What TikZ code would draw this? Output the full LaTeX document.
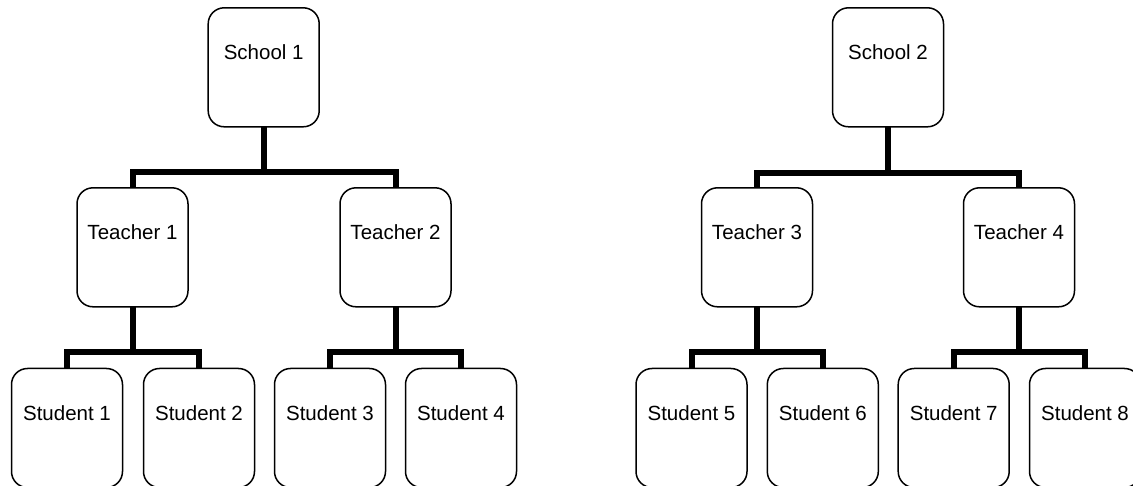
\documentclass[tikz,border=0pt]{standalone}
\usepackage{fontspec}
\setmainfont{Liberation Sans}
\usetikzlibrary{calc}
\begin{document}
\begin{tikzpicture}[x=1pt,y=-1pt,
  box/.style={draw=black, line width=1.5pt, rounded corners=16pt,
    minimum width=111pt, minimum height=119pt, inner sep=0pt, outer sep=0pt,
    label={[anchor=base, yshift=-52pt, font=\fontsize{20.5}{24}\selectfont]north:#1}},
  conn/.style={draw=black, line width=6pt, line join=miter}]
\useasboundingbox (0,0) rectangle (1133,486);
% left tree
\node[box={School 1}] (sc1) at (263.7,67.3) {};
\node[box={Teacher 1}] (t1) at (132.5,247.3) {};
\node[box={Teacher 2}] (t2) at (395.5,247.3) {};
\node[box={Student 1}] (st1) at (67,428) {};
\node[box={Student 2}] (st2) at (199,428) {};
\node[box={Student 3}] (st3) at (330,428) {};
\node[box={Student 4}] (st4) at (461,428) {};
% right tree
\node[box={School 2}] (sc2) at (888,67.3) {};
\node[box={Teacher 3}] (t3) at (757,247.3) {};
\node[box={Teacher 4}] (t4) at (1019,247.3) {};
\node[box={Student 5}] (st5) at (691.5,428) {};
\node[box={Student 6}] (st6) at (822.8,428) {};
\node[box={Student 7}] (st7) at (953.7,428) {};
\node[box={Student 8}] (st8) at (1085,428) {};
% connectors
\foreach \p/\a/\b/\yy in {sc1/t1/t2/172, t1/st1/st2/352.5, t2/st3/st4/352.5,
                         sc2/t3/t4/173, t3/st5/st6/352.5, t4/st7/st8/352.5}{
  \coordinate (j-\p) at (\p.south |- 0,\yy);
  \draw[conn] (\p.south) -- (j-\p);
  \draw[conn] (\a.north) |- (j-\p) -| (\b.north);
}
\end{tikzpicture}
\end{document}
